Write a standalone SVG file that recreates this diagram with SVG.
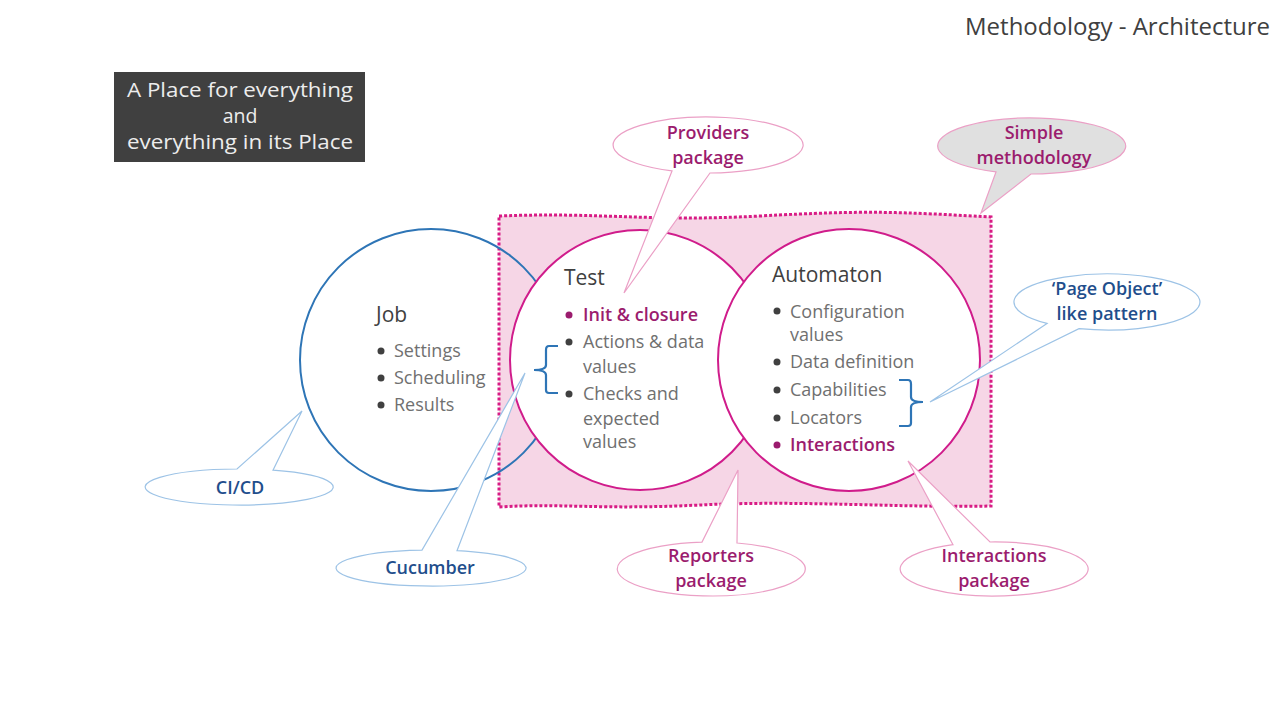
<svg xmlns="http://www.w3.org/2000/svg" width="1280" height="720" viewBox="0 0 1280 720">
<style>
text{font-family:"Open Sans","Noto Sans",sans-serif}
.h{font-size:21px;fill:#404040}
.b{font-size:18px;fill:#707070}
.m{font-size:18px;fill:#9B1C6E;font-weight:600}
.bul{fill:#404040}
.bulm{fill:#9B1C6E}
.cp{fill:#fff;stroke:#EBA0C6;stroke-width:1.2}
.cb{fill:#fff;stroke:#9DC3E6;stroke-width:1.2}
.tp{font-size:18px;fill:#9B1C6E;text-anchor:middle;font-weight:600}
.tb{font-size:18px;fill:#1F4E8C;text-anchor:middle;font-weight:600}
.tt{font-size:19.5px;fill:#EDEDED;text-anchor:middle}
.brace{fill:none;stroke:#2E75B6;stroke-width:2.2}
</style>
<rect width="1280" height="720" fill="#fff"/>
<text x="1270" y="35" font-size="24" fill="#404040" text-anchor="end">Methodology - Architecture</text>
<g id="title-box">
<rect x="114" y="72" width="251" height="90" fill="#404040"/>
<text x="240" y="97" class="tt" textLength="226" lengthAdjust="spacingAndGlyphs">A Place for everything</text>
<text x="240" y="123" class="tt">and</text>
<text x="240" y="149" class="tt" textLength="226" lengthAdjust="spacingAndGlyphs">everything in its Place</text>
</g>
<g id="methodology-area">
<path d="M499,216 C600,212 650,222 760,216 S900,212 991,217 L991,506 C900,508 800,500 700,505 S560,503 499,507 Z" fill="#F6D6E6" stroke="#D81B85" stroke-width="3" stroke-dasharray="3 2"/>
</g>
<g id="job">
<circle cx="431" cy="360" r="131" fill="none" stroke="#2E75B6" stroke-width="2"/>
<text x="376" y="322" class="h">Job</text>
<circle cx="381" cy="351" r="3.5" class="bul"/><text x="394" y="357" class="b">Settings</text>
<circle cx="381" cy="378" r="3.5" class="bul"/><text x="394" y="384" class="b">Scheduling</text>
<circle cx="381" cy="405" r="3.5" class="bul"/><text x="394" y="411" class="b">Results</text>
</g>
<g id="test">
<circle cx="640" cy="360" r="130" fill="#fff" stroke="#D01C8B" stroke-width="2"/>
<text x="564" y="285" class="h">Test</text>
<circle cx="569" cy="315" r="3.5" class="bulm"/><text x="583" y="321" class="m">Init &amp; closure</text>
<circle cx="569" cy="342" r="3.5" class="bul"/><text x="583" y="348" class="b">Actions &amp; data</text>
<text x="583" y="373" class="b">values</text>
<circle cx="569" cy="394" r="3.5" class="bul"/><text x="583" y="400" class="b">Checks and</text>
<text x="583" y="425" class="b">expected</text>
<text x="583" y="448" class="b">values</text>
</g>
<g id="automaton">
<circle cx="849" cy="360" r="131" fill="#fff" stroke="#D01C8B" stroke-width="2"/>
<text x="772" y="282" class="h">Automaton</text>
<circle cx="777" cy="311" r="3.5" class="bul"/><text x="790" y="318" class="b">Configuration</text>
<text x="790" y="341" class="b">values</text>
<circle cx="777" cy="362" r="3.5" class="bul"/><text x="790" y="368" class="b">Data definition</text>
<circle cx="777" cy="390" r="3.5" class="bul"/><text x="790" y="396" class="b">Capabilities</text>
<circle cx="777" cy="418" r="3.5" class="bul"/><text x="790" y="424" class="b">Locators</text>
<circle cx="777" cy="445" r="3.5" class="bulm"/><text x="790" y="451" class="m">Interactions</text>
</g>
<g id="connectors">
<path class="brace" d="M558,346 L549,346 Q546,346 546,350 L546,365 Q546,370 534,370 Q546,370 546,375 L546,390 Q546,393 549,393 L558,393"/>
<path class="brace" d="M899,380 L908,380 Q911,380 911,384 L911,397 Q911,402 923,402 Q911,402 911,407 L911,423 Q911,426 908,426 L899,426"/>
</g>
<g id="callout-providers">
<path class="cp" d="M672,170.9 A95,28 0 1 1 710,173 L624,293 Z"/>
<text x="708" y="139" class="tp">Providers</text>
<text x="708" y="164" class="tp">package</text>
</g>
<g id="callout-simple">
<path d="M996,171.9 A94,28 0 1 1 1031,174 L981,213 Z" fill="#E0E0E0" stroke="#EBA0C6" stroke-width="1.2"/>
<text x="1034" y="139" class="tp">Simple</text>
<text x="1034" y="164" class="tp">methodology</text>
</g>
<g id="callout-pageobject">
<path class="cb" d="M1047,323.4 A93,28 0 1 1 1079,328.7 L930,402 Z"/>
<text x="1107" y="295" class="tb">‘Page Object’</text>
<text x="1107" y="320" class="tb">like pattern</text>
</g>
<g id="callout-cicd">
<path class="cb" d="M237,469 A94,18 0 1 0 273,470.2 L302,411 Z"/>
<text x="240" y="494" class="tb">CI/CD</text>
</g>
<g id="callout-cucumber">
<path class="cb" d="M422,550.1 A95,18 0 1 0 457,550.7 L525,373 Z"/>
<text x="430" y="574" class="tb">Cucumber</text>
</g>
<g id="callout-reporters">
<path class="cp" d="M702,542.1 A94,27 0 1 0 737,543 L738,470 Z"/>
<text x="711" y="562" class="tp">Reporters</text>
<text x="711" y="587" class="tp">package</text>
</g>
<g id="callout-interactions">
<path class="cp" d="M953,544.7 A94,27 0 1 0 990,542 L908,461 Z"/>
<text x="994" y="562" class="tp">Interactions</text>
<text x="994" y="587" class="tp">package</text>
</g>
</svg>
